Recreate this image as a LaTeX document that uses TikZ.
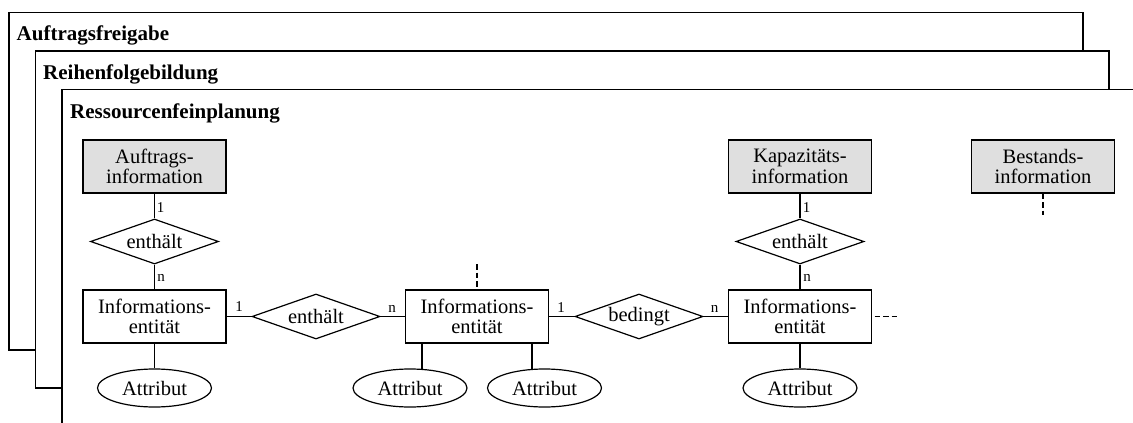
\documentclass[tikz,border=0pt]{standalone}
\usepackage{fontspec}
\setmainfont{Liberation Serif}
\usetikzlibrary{shapes.geometric}
\begin{document}
\begin{tikzpicture}[x=1pt,y=-1pt,
  every node/.style={font=\fontsize{20.5}{20.5}\selectfont},
  frame/.style={draw, line width=1.2pt, fill=white},
  entity/.style={draw, line width=1.2pt, minimum width=143pt, minimum height=53pt,
    inner sep=0pt, align=center},
  master/.style={entity, fill=gray!25},
  relation/.style={draw, line width=1.2pt, diamond, aspect=2.84,
    minimum width=128pt, minimum height=45pt, inner sep=0pt},
  attribute/.style={draw, line width=1.2pt, ellipse, minimum width=114pt,
    minimum height=38pt, inner sep=0pt},
  link/.style={line width=1.2pt},
  open/.style={line width=1.2pt, dash pattern=on 5.5pt off 3pt},
  card/.style={font=\fontsize{15}{15}\selectfont, inner sep=0pt},
  title/.style={font=\bfseries\fontsize{21}{21}\selectfont, anchor=base west, inner sep=0pt}
]
\useasboundingbox (0,0) rectangle (1133,423);
\clip (0,0) rectangle (1133,423);

% stacked planning levels
\draw[frame] (9,12.5) rectangle (1083,350);
\node[title] (t1) at (16.5,40) {Auftragsfreigabe};
\draw[frame] (35.5,51) rectangle (1109,388);
\node[title] (t2) at (43,79.5) {Reihenfolgebildung};
\draw[frame] (62,89.5) rectangle (1150,440);
\node[title] (t3) at (70,118) {Ressourcenfeinplanung};

% entities, relations, attributes
\node[master] (ai) at (154.5,166.5) {Auftrags-\\information};
\node[relation] (r1) at (154.5,241.5) {enthält};
\node[entity] (e1) at (154.5,316.5) {Informations-\\entität};
\node[attribute] (a1) at (154.5,388) {Attribut};

\node[relation] (r2) at (316,316.5) {enthält};
\node[entity] (e2) at (477,316.5) {Informations-\\entität};
\node[attribute] (a2) at (410,388) {Attribut};
\node[attribute] (a3) at (544.5,388) {Attribut};

\node[relation] (r3) at (639,316.5) {bedingt};
\node[master] (ki) at (800,166.5) {Kapazitäts-\\information};
\node[relation] (r4) at (800,241.5) {enthält};
\node[entity] (e3) at (800,316.5) {Informations-\\entität};
\node[attribute] (a4) at (800,388) {Attribut};

\node[master] (bi) at (1043,166.5) {Bestands-\\information};

% connectors
\draw[link] (ai) -- (r1);
\draw[link] (r1) -- (e1);
\draw[link] (e1) -- (a1);
\draw[link] (e1) -- (r2);
\draw[link] (r2) -- (e2);
\draw[link] ([xshift=-55pt]e2.south) -- +(0,26);
\draw[link] ([xshift=55pt]e2.south) -- +(0,26);
\draw[link] (e2) -- (r3);
\draw[link] (r3) -- (e3);
\draw[link] (ki) -- (r4);
\draw[link] (r4) -- (e3);
\draw[link] (e3) -- (a4);

% open continuations
\coordinate (d1) at (477,264);
\draw[open] (d1) -- (e2.north);
\coordinate (d2) at (897.5,316.5);
\draw[open] ([xshift=2.5pt]e3.east) -- (d2);
\coordinate (d3) at (1043,215);
\draw[open] (bi.south) -- (d3);

% cardinalities
\node[card] (c1) at (160.5,208) {1};
\node[card] (c2) at (161,277.5) {n};
\node[card] (c3) at (239,307) {1};
\node[card] (c4) at (392,308.5) {n};
\node[card] (c5) at (561,307.5) {1};
\node[card] (c6) at (714.5,308.5) {n};
\node[card] (c7) at (806.5,208) {1};
\node[card] (c8) at (807,277.5) {n};
\end{tikzpicture}
\end{document}
